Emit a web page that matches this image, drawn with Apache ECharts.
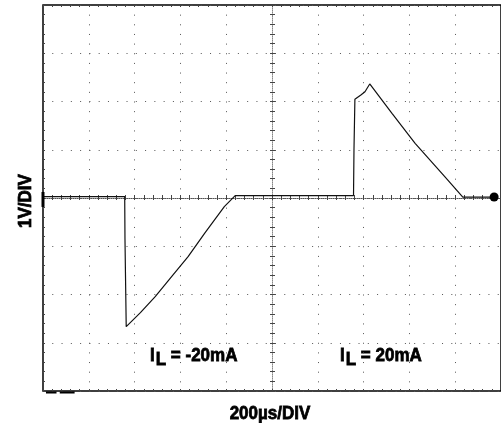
<!DOCTYPE html>
<html>
<head>
<meta charset="utf-8">
<script src="https://cdn.jsdelivr.net/npm/echarts@6/dist/echarts.min.js"></script>
<style>
html,body{margin:0;padding:0;background:#fff;}
#chart{width:501px;height:423px;}
</style>
</head>
<body>
<div id="chart"></div>
<script>
// Time in divisions (200µs/DIV), centred on the screen middle; voltage in volts (1V/DIV)
const timeDiv = [-5, -3.216, -3.21, -3.183, -2.873, -2.55, -2.192, -1.832, -1.472, -1.041, -0.804,
                 1.78, 1.79, 1.81, 1.94, 2.03, 2.134, 2.62, 3.125, 3.772, 4.166, 4.87];
const volts   = [0.03, 0.03, -0.85, -2.667, -2.377, -2.045, -1.631, -1.217, -0.732, -0.18, 0.048,
                 0.05, 1.0, 2.046, 2.135, 2.203, 2.363, 1.755, 1.134, 0.441, 0.02, 0.02];
const groundMarker = [-5, -0.03];
const triggerMarker = [4.85, 0.02];
const cornerMarksX = [-4.935, -4.705, null, -4.634, -4.31];
const cornerMarksY = [-4.03, -4.03, null, -4.03, -4.03];
const xLabel = '200µs/DIV';
const yLabel = '1V/DIV';
const labelNeg = 'I_L = -20mA';
const labelPos = 'I_L = 20mA';

const trace = timeDiv.map((t, i) => [t, volts[i]]);
const marks = cornerMarksX.map((t, i) => t === null ? [null, null] : [t, cornerMarksY[i]]);

const FAMILY = 'Liberation Sans';
const dotH = { color: '#555', width: 1, type: [1, 8.28] };
const dotV = { color: '#555', width: 1, type: [1, 8.65] };
const TXT = { fontFamily: FAMILY, fontSize: 17, fontWeight: 'bold', fill: '#000',
              stroke: '#000', lineWidth: 0.7 };

function richLabel(text, x, y) {
  const parts = text.split('_');
  const rest = parts[1].slice(1);
  const sub = parts[1].charAt(0);
  const tok = Object.assign({ verticalAlign: 'top' }, TXT);
  return {
    type: 'text', x: x, y: y, scaleY: 1.1, silent: true,
    style: Object.assign({}, TXT, {
      text: '{a|' + parts[0] + '}{b|' + sub + '}{c|' + rest + '}',
      textAlign: 'left', textVerticalAlign: 'top',
      rich: {
        a: Object.assign({}, tok),
        b: Object.assign({}, tok, { padding: [4, 0, 0, 1] }),
        c: Object.assign({}, tok)
      }
    })
  };
}

const chart = echarts.init(document.getElementById('chart'), null, { renderer: 'canvas' });
const hiddenAxisBase = {
  type: 'value', min: -5, max: 5, interval: 1,
  axisLabel: { show: false }, splitLine: { show: false }
};
chart.setOption({
  animation: false,
  backgroundColor: '#fff',
  grid: { left: 43, top: 5, right: -6, bottom: 32, show: true, borderColor: '#000', borderWidth: 1.5, backgroundColor: 'transparent' },
  xAxis: [
    { type: 'value', min: -5, max: 5, interval: 1, position: 'bottom',
      axisLine: { show: true, onZero: true, onZeroAxisIndex: 0, lineStyle: { color: '#555', width: 1, type: [1, 1] } },
      axisTick: { show: true, inside: true, length: 3, lineStyle: { color: '#444' } },
      minorTick: { show: true, splitNumber: 5, length: 3, lineStyle: { color: '#444' } },
      axisLabel: { show: false },
      splitLine: { show: true, lineStyle: dotV } },
    Object.assign({}, hiddenAxisBase, { position: 'top',
      axisLine: { show: false, onZero: true, onZeroAxisIndex: 0 },
      axisTick: { show: true, inside: true, length: 2, lineStyle: { color: '#444' } },
      minorTick: { show: true, splitNumber: 5, length: 2, lineStyle: { color: '#444' } } }),
    Object.assign({}, hiddenAxisBase, { position: 'bottom',
      axisLine: { show: false, onZero: false },
      axisTick: { show: true, inside: true, length: 2, lineStyle: { color: '#444' } },
      minorTick: { show: true, splitNumber: 5, length: 2, lineStyle: { color: '#444' } } }),
    Object.assign({}, hiddenAxisBase, { position: 'top',
      axisLine: { show: false, onZero: false },
      axisTick: { show: true, inside: true, length: 2, lineStyle: { color: '#444' } },
      minorTick: { show: true, splitNumber: 5, length: 2, lineStyle: { color: '#444' } } })
  ],
  yAxis: [
    { type: 'value', min: -4, max: 4, interval: 1, position: 'left',
      axisLine: { show: true, onZero: true, onZeroAxisIndex: 0, lineStyle: { color: '#888', width: 1, type: [1, 1] } },
      axisTick: { show: true, inside: true, length: 3, lineStyle: { color: '#444' } },
      minorTick: { show: true, splitNumber: 5, length: 3, lineStyle: { color: '#444' } },
      axisLabel: { show: false },
      splitLine: { show: true, lineStyle: dotH } },
    { type: 'value', min: -4, max: 4, interval: 1, position: 'right',
      axisLine: { show: false, onZero: true, onZeroAxisIndex: 0 },
      axisTick: { show: true, inside: true, length: 2, lineStyle: { color: '#444' } },
      minorTick: { show: true, splitNumber: 5, length: 2, lineStyle: { color: '#444' } },
      axisLabel: { show: false }, splitLine: { show: false } },
    { type: 'value', min: -4, max: 4, interval: 1, position: 'left',
      axisLine: { show: false, onZero: false },
      axisTick: { show: true, inside: true, length: 2, lineStyle: { color: '#444' } },
      minorTick: { show: true, splitNumber: 5, length: 2, lineStyle: { color: '#444' } },
      axisLabel: { show: false }, splitLine: { show: false } }
  ],
  series: [
    { type: 'line', xAxisIndex: 0, yAxisIndex: 0, data: trace, showSymbol: false, symbol: 'none',
      lineStyle: { color: '#111', width: 1.2 }, silent: true,
      markPoint: {
        silent: true, label: { show: false },
        data: [
          { coord: groundMarker, symbol: 'rect', symbolSize: [3, 15], itemStyle: { color: '#000' } },
          { coord: triggerMarker, symbol: 'circle', symbolSize: 9, itemStyle: { color: '#000' } }
        ]
      } },
    { type: 'line', xAxisIndex: 0, yAxisIndex: 0, data: marks, showSymbol: false, symbol: 'none', clip: false,
      connectNulls: false, lineStyle: { color: '#000', width: 2 }, silent: true }
  ],
  graphic: [
    { type: 'text', x: 25.7, y: 201, rotation: Math.PI / 2, scaleY: 1.1, silent: true,
      style: Object.assign({}, TXT, { text: yLabel, textAlign: 'center', textVerticalAlign: 'middle' }) },
    { type: 'text', x: 270, y: 414, scaleY: 1.1, silent: true,
      style: Object.assign({}, TXT, { text: xLabel, textAlign: 'center', textVerticalAlign: 'middle' }) },
    richLabel(labelNeg, 150, 346),
    richLabel(labelPos, 340, 346)
  ]
});
</script>
</body>
</html>
